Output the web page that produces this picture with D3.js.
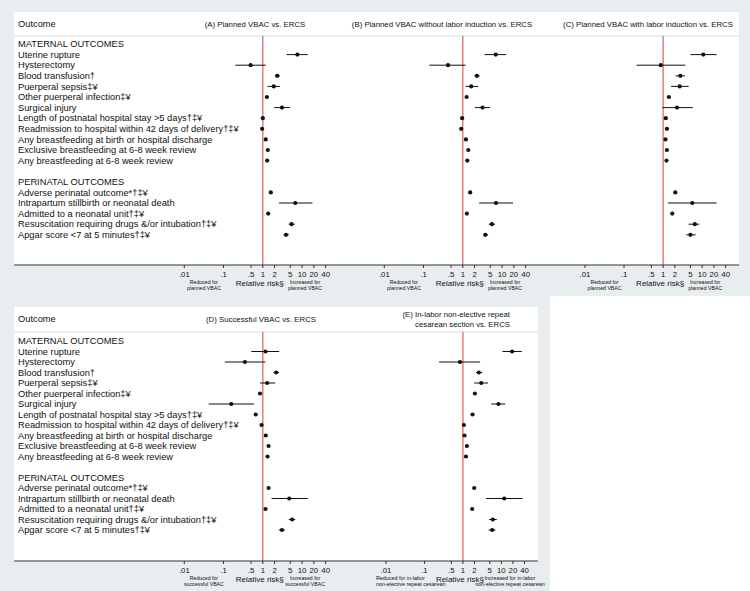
<!DOCTYPE html>
<html>
<head>
<meta charset="utf-8">
<script src="https://cdn.jsdelivr.net/npm/d3@7"></script>
<style>
  body { margin: 0; background: #e8eef0; }
  text { font-family: "Liberation Sans", Arial, Helvetica, sans-serif; fill: #111; }
</style>
</head>
<body>
<script>
'use strict';
// outcome labels
let maternal = ["Uterine rupture", "Hysterectomy", "Blood transfusion\u2020", "Puerperal sepsis\u2021\u00a5",
  "Other puerperal infection\u2021\u00a5", "Surgical injury", "Length of postnatal hospital stay >5 days\u2020\u2021\u00a5",
  "Readmission to hospital within 42 days of delivery\u2020\u2021\u00a5", "Any breastfeeding at birth or hospital discharge",
  "Exclusive breastfeeding at 6-8 week review", "Any breastfeeding at 6-8 week review"];
let perinatal = ["Adverse perinatal outcome*\u2020\u2021\u00a5", "Intrapartum stillbirth or neonatal death",
  "Admitted to a neonatal unit\u2020\u2021\u00a5", "Resuscitation requiring drugs &/or intubation\u2020\u2021\u00a5",
  "Apgar score <7 at 5 minutes\u2020\u2021\u00a5"];

let tickValues = [0.01, 0.1, 0.5, 1, 2, 5, 10, 20, 40];
let tickLabels = [".01", ".1", ".5", "1", "2", "5", "10", "20", "40"];

// [relative risk, lower, upper] per outcome (maternal then perinatal)
let rrA = [[7.6,4.05,14],[0.49,0.2,1.19],[2.33,2.03,2.73],[1.9,1.32,2.73],[1.27,1.17,1.38],[3.07,1.95,4.9],
  [1.0,0.95,1.05],[0.96,0.9,1.03],[1.19,1.14,1.24],[1.34,1.28,1.4],[1.29,1.24,1.34],
  [1.6,1.5,1.7],[6.7,2.57,18.4],[1.37,1.3,1.44],[5.4,4.6,6.5],[3.9,3.4,4.6]];
let rrB = [[6.9,3.6,12.8],[0.42,0.14,1.18],[2.28,2.0,2.68],[1.64,1.18,2.46],[1.25,1.18,1.33],[3.18,2.03,5.0],
  [0.96,0.92,1.0],[0.91,0.86,0.96],[1.2,1.16,1.24],[1.38,1.32,1.44],[1.3,1.25,1.35],
  [1.54,1.46,1.62],[7.0,2.6,19],[1.27,1.2,1.34],[5.5,4.6,6.6],[3.75,3.3,4.4]];
let rrC = [[10.7,5.0,23.3],[0.87,0.21,3.7],[2.76,2.1,3.6],[2.65,1.6,4.5],[1.4,1.25,1.57],[2.27,0.96,5.7],
  [1.17,1.08,1.27],[1.25,1.14,1.37],[1.15,1.1,1.2],[1.25,1.19,1.31],[1.22,1.16,1.28],
  [2.05,1.9,2.2],[5.6,1.32,23.3],[1.71,1.6,1.83],[6.5,4.5,8.4],[5.0,3.9,6.8]];
let rrD = [[1.17,0.51,2.6],[0.35,0.108,1.17],[2.19,1.88,2.6],[1.29,0.85,2.07],[0.85,0.8,0.9],[0.157,0.042,0.6],
  [0.66,0.62,0.7],[0.93,0.88,0.98],[1.19,1.14,1.24],[1.4,1.34,1.46],[1.32,1.27,1.37],
  [1.4,1.32,1.48],[4.7,1.67,14],[1.17,1.1,1.25],[5.6,4.6,6.7],[3.07,2.57,3.66]];
let rrE = [[19,10.7,34],[0.84,0.24,2.8],[2.6,2.2,3.2],[3.0,1.97,4.5],[2.05,1.9,2.2],[8.4,5.5,12.6],
  [1.78,1.68,1.88],[1.06,1.0,1.12],[1.1,1.05,1.15],[1.27,1.2,1.34],[1.2,1.14,1.26],
  [1.97,1.85,2.1],[11.9,3.96,35.5],[1.74,1.62,1.86],[6.0,4.8,7.6],[5.77,4.65,7.06]];

// row labels incl. section headers and the blank spacer row
let rows = ["MATERNAL OUTCOMES"].concat(maternal, [""], ["PERINATAL OUTCOMES"], perinatal);
let dataRow = d3.range(maternal.length).map(i => i + 1)
  .concat(d3.range(perinatal.length).map(i => i + maternal.length + 3));

let svg = d3.select("body").append("svg")
  .attr("width", 750).attr("height", 591);

// white block bottom right
svg.append("rect").attr("x", 550).attr("y", 296).attr("width", 200).attr("height", 295).attr("fill", "#fff");

let figures = [
  { x0: 14, x1: 739, top: 12, axisY: 265, headY: 24, lineY: 36, row0: 44, step: 10.6,
    panels: [
      { data: rrA, range: [184.3, 325.7], title: ["(A) Planned VBAC vs. ERCS"], titleX: 255, anchor: "middle",
        left: ["Reduced for", "planned VBAC"], right: ["Increased for", "planned VBAC"] },
      { data: rrB, range: [384.3, 525.7], title: ["(B) Planned VBAC without labor induction vs. ERCS"], titleX: 442, anchor: "middle",
        left: ["Reduced for", "planned VBAC"], right: ["Increased for", "planned VBAC"] },
      { data: rrC, range: [585, 725.7], title: ["(C) Planned VBAC with labor induction vs. ERCS"], titleX: 648, anchor: "middle",
        left: ["Reduced for", "planned VBAC"], right: ["Increased for", "planned VBAC"] }
    ] },
  { x0: 14, x1: 538, top: 307, axisY: 561, headY: 319, lineY: 332, row0: 341, step: 10.5,
    panels: [
      { data: rrD, range: [184.3, 325.7], title: ["(D) Successful VBAC vs. ERCS"], titleX: 261, anchor: "middle",
        left: ["Reduced for", "successful VBAC"], right: ["Increased for", "successful VBAC"] },
      { data: rrE, range: [386, 524.5], title: ["(E) In-labor non-elective repeat", "cesarean section vs. ERCS"], titleX: 510, anchor: "end",
        left: ["Reduced for in-labor", "non-elective repeat cesarean"], right: ["Increased for in-labor", "non-elective repeat cesarean"],
        leftAnchor: "start", leftX: -87, capSize: 5.4 }
    ] }
];

figures.forEach(function(f) {
  svg.append("rect")
    .attr("x", f.x0).attr("y", f.top)
    .attr("width", f.x1 - f.x0).attr("height", f.axisY - f.top)
    .attr("fill", "#fff");

  svg.append("line")
    .attr("x1", f.x0).attr("x2", f.x1)
    .attr("y1", f.lineY).attr("y2", f.lineY)
    .attr("stroke", "#d8d8d8").attr("stroke-width", 1);

  svg.append("text")
    .attr("x", 18).attr("y", f.headY).attr("dy", "0.35em")
    .attr("font-size", "9.3px").text("Outcome");

  let y = d3.scaleLinear().domain([0, rows.length - 1])
    .range([f.row0, f.row0 + f.step * (rows.length - 1)]);

  svg.selectAll(null)
    .data(rows)
    .enter().append("text")
      .attr("x", 18)
      .attr("y", function(d, i) { return y(i); })
      .attr("dy", "0.35em")
      .attr("font-size", "9.3px")
      .text(function(d) { return d; });

  f.panels.forEach(function(p) {
    let x = d3.scaleLog().domain([0.01, 40]).range(p.range);

    let t = svg.append("text")
      .attr("x", p.titleX).attr("y", f.headY - (p.title.length - 1) * 5)
      .attr("text-anchor", p.anchor)
      .attr("font-size", "7.8px");
    p.title.forEach(function(s, i) {
      t.append("tspan").attr("x", p.titleX).attr("dy", i ? "1.3em" : "0.35em").text(s);
    });

    svg.append("line")
      .attr("x1", x(1)).attr("x2", x(1))
      .attr("y1", f.lineY).attr("y2", f.axisY)
      .attr("stroke", "#e06a6a").attr("stroke-width", 1.3);

    let g = svg.append("g");
    g.selectAll("line")
      .data(p.data)
      .enter().append("line")
        .attr("x1", function(d) { return x(d[1]); })
        .attr("x2", function(d) { return x(d[2]); })
        .attr("y1", function(d, i) { return y(dataRow[i]); })
        .attr("y2", function(d, i) { return y(dataRow[i]); })
        .attr("stroke", "#111").attr("stroke-width", 1);
    g.selectAll("circle")
      .data(p.data)
      .enter().append("circle")
        .attr("cx", function(d) { return x(d[0]); })
        .attr("cy", function(d, i) { return y(dataRow[i]); })
        .attr("r", 2.1)
        .attr("fill", "#111");

    let ax = svg.append("g");
    ax.selectAll("line")
      .data(tickValues)
      .enter().append("line")
        .attr("x1", function(d) { return x(d); })
        .attr("x2", function(d) { return x(d); })
        .attr("y1", f.axisY).attr("y2", f.axisY + 3)
        .attr("stroke", "#333");
    ax.selectAll("text")
      .data(tickValues)
      .enter().append("text")
        .attr("x", function(d) { return x(d); })
        .attr("y", f.axisY + 9.5)
        .attr("dy", "0.35em")
        .attr("text-anchor", "middle")
        .attr("font-size", "7.8px")
        .text(function(d, i) { return tickLabels[i]; });

    svg.append("text")
      .attr("x", x(1) - 3).attr("y", f.axisY + 18)
      .attr("dy", "0.35em")
      .attr("text-anchor", "middle")
      .attr("font-size", "8px")
      .text("Relative risk\u00a7");

    let cs = p.capSize || 5.2;
    let lx = p.leftAnchor ? x(1) + p.leftX : (x(0.01) + x(0.1)) / 2;
    p.left.forEach(function(s, i) {
      svg.append("text")
        .attr("x", lx).attr("y", f.axisY + 17 + i * 6.5)
        .attr("dy", "0.35em")
        .attr("text-anchor", p.leftAnchor || "middle")
        .attr("font-size", cs + "px")
        .text(s);
    });
    p.right.forEach(function(s, i) {
      svg.append("text")
        .attr("x", p.leftAnchor ? x(1) + 47 : x(10) + 3).attr("y", f.axisY + 17 + i * 6.5)
        .attr("dy", "0.35em")
        .attr("text-anchor", "middle")
        .attr("font-size", cs + "px")
        .text(s);
    });
  });

  svg.append("line")
    .attr("x1", f.x0).attr("x2", f.x1)
    .attr("y1", f.axisY).attr("y2", f.axisY)
    .attr("stroke", "#333").attr("stroke-width", 1);
});
</script>
</body>
</html>
